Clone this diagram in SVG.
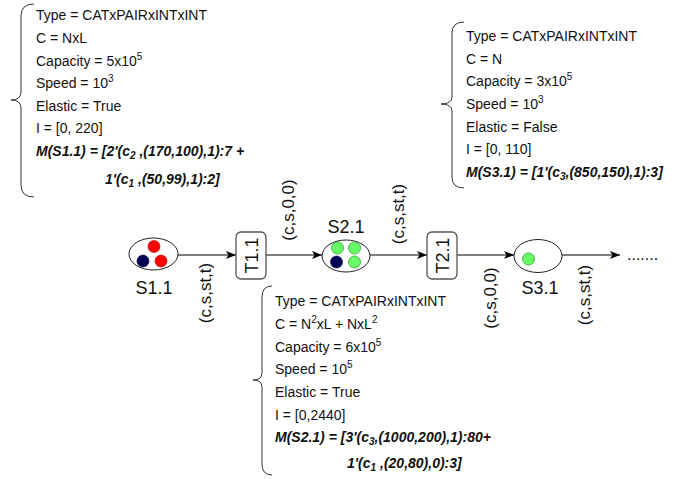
<svg xmlns="http://www.w3.org/2000/svg" width="697" height="479" viewBox="0 0 697 479">
<defs>
<marker id="ah" markerWidth="10" markerHeight="8" refX="10" refY="4" orient="auto" markerUnits="userSpaceOnUse">
<path d="M0,0 L10,4 L0,8 L2.5,4 Z" fill="#000"/>
</marker>
</defs>
<style>
text{font-family:"Liberation Sans",Arial,sans-serif;fill:#111}
.info{font-size:14px}
.bi{font-size:14px;font-weight:bold;font-style:italic}
.lbl{font-size:18px}
.el{font-size:17px}
.place{fill:#fff;stroke:#222;stroke-width:1}
.trans{fill:#fff;stroke:#555;stroke-width:1.3}
.brace{fill:none;stroke:#333;stroke-width:1}
.edge{fill:none;stroke:#000;stroke-width:1.2;marker-end:url(#ah)}
.red{fill:#ff0000;stroke:#aa0000;stroke-width:0.6}
.navy{fill:#000055;stroke:#000033;stroke-width:0.6}
.green{fill:#66ff66;stroke:#2e9e2e;stroke-width:0.8}
</style>
<rect width="697" height="479" fill="#fff"/>

<g id="info-S1.1">
<path class="brace" d="M34,4 Q21,4 21,16 L21,92 Q21,100 11,100 Q21,100 21,108 L21,185 Q21,197 34,197"/>
<text class="info" x="36" y="20">Type = CATxPAIRxINTxINT</text>
<text class="info" x="36" y="43">C = NxL</text>
<text class="info" x="36" y="66">Capacity = 5x10<tspan dy="-6" font-size="10">5</tspan></text>
<text class="info" x="36" y="88">Speed = 10<tspan dy="-6" font-size="10">3</tspan></text>
<text class="info" x="36" y="111">Elastic = True</text>
<text class="info" x="36" y="133">I = [0, 220]</text>
<text class="bi" x="36" y="156">M(S1.1) = [2'(c<tspan dy="3" font-size="10">2</tspan><tspan dy="-3"> ,(170,100),1):7 +</tspan></text>
<text class="bi" x="105" y="184">1'(c<tspan dy="3" font-size="10">1</tspan><tspan dy="-3"> ,(50,99),1):2]</tspan></text>
</g>

<g id="info-S3.1">
<path class="brace" d="M464,22 Q452,22 452,33 L452,97 Q452,104 441,104 Q452,104 452,111 L452,177 Q452,188 464,188"/>
<text class="info" x="466" y="41">Type = CATxPAIRxINTxINT</text>
<text class="info" x="466" y="64">C = N</text>
<text class="info" x="466" y="86">Capacity = 3x10<tspan dy="-6" font-size="10">5</tspan></text>
<text class="info" x="466" y="109">Speed = 10<tspan dy="-6" font-size="10">3</tspan></text>
<text class="info" x="466" y="132">Elastic = False</text>
<text class="info" x="466" y="154">I = [0, 110]</text>
<text class="bi" x="466" y="177">M(S3.1) = [1'(c<tspan dy="3" font-size="10">3</tspan><tspan dy="-3">,(850,150),1):3]</tspan></text>
</g>

<g id="info-S2.1">
<path class="brace" d="M272,286 Q262,286 262,297 L262,373 Q262,380 253,380 Q262,380 262,387 L262,464 Q262,475 272,475"/>
<text class="info" x="275" y="306">Type = CATxPAIRxINTxINT</text>
<text class="info" x="275" y="329">C = N<tspan dy="-6" font-size="10">2</tspan><tspan dy="6">xL + NxL</tspan><tspan dy="-6" font-size="10">2</tspan></text>
<text class="info" x="275" y="352">Capacity = 6x10<tspan dy="-6" font-size="10">5</tspan></text>
<text class="info" x="275" y="374">Speed = 10<tspan dy="-6" font-size="10">5</tspan></text>
<text class="info" x="275" y="397">Elastic = True</text>
<text class="info" x="275" y="420">I = [0,2440]</text>
<text class="bi" x="275" y="442">M(S2.1) = [3'(c<tspan dy="3" font-size="10">3</tspan><tspan dy="-3">,(1000,200),1):80+</tspan></text>
<text class="bi" x="347" y="468">1'(c<tspan dy="3" font-size="10">1</tspan><tspan dy="-3"> ,(20,80),0):3]</tspan></text>
</g>

<g id="connectors">
<line class="edge" x1="178" y1="255" x2="236" y2="255"/>
<line class="edge" x1="266" y1="255" x2="322" y2="255"/>
<line class="edge" x1="370" y1="255" x2="427" y2="255"/>
<line class="edge" x1="457" y1="255" x2="514" y2="255"/>
<line class="edge" x1="562" y1="255" x2="620" y2="255"/>
<text class="el" transform="translate(206,293) rotate(-90)" y="5" text-anchor="middle">(c,s,st,t)</text>
<text class="el" transform="translate(289,210) rotate(-90)" y="5" text-anchor="middle">(c,s,0,0)</text>
<text class="el" transform="translate(399,214) rotate(-90)" y="5" text-anchor="middle">(c,s,st,t)</text>
<text class="el" transform="translate(491,298) rotate(-90)" y="5" text-anchor="middle">(c,s,0,0)</text>
<text class="el" transform="translate(585,295) rotate(-90)" y="5" text-anchor="middle">(c,s,st,t)</text>
<text x="627" y="260" font-size="16">.......</text>
</g>

<g id="S1.1">
<ellipse class="place" cx="153.5" cy="254" rx="24.5" ry="16"/>
<circle class="red" cx="154" cy="246.5" r="6"/>
<circle class="navy" cx="143" cy="261" r="6"/>
<circle class="red" cx="161" cy="261" r="6"/>
<text class="lbl" x="154" y="294" text-anchor="middle">S1.1</text>
</g>

<g id="T1.1">
<rect class="trans" x="236" y="232" width="30" height="47" rx="5"/>
<text class="lbl" transform="translate(251,255.5) rotate(-90)" y="6.5" text-anchor="middle">T1.1</text>
</g>

<g id="S2.1">
<ellipse class="place" cx="346" cy="256" rx="24" ry="16"/>
<circle class="green" cx="337.5" cy="248" r="6"/>
<circle class="green" cx="354.5" cy="248" r="6"/>
<circle class="navy" cx="336.5" cy="262" r="6"/>
<circle class="green" cx="354.5" cy="262" r="6"/>
<text class="lbl" x="346" y="233" text-anchor="middle">S2.1</text>
</g>

<g id="T2.1">
<rect class="trans" x="427" y="232" width="30" height="47" rx="5"/>
<text class="lbl" transform="translate(442,255.5) rotate(-90)" y="6.5" text-anchor="middle">T2.1</text>
</g>

<g id="S3.1">
<ellipse class="place" cx="538" cy="256" rx="24" ry="16.5"/>
<circle class="green" cx="528.5" cy="259" r="6"/>
<text class="lbl" x="540" y="294" text-anchor="middle">S3.1</text>
</g>
</svg>
